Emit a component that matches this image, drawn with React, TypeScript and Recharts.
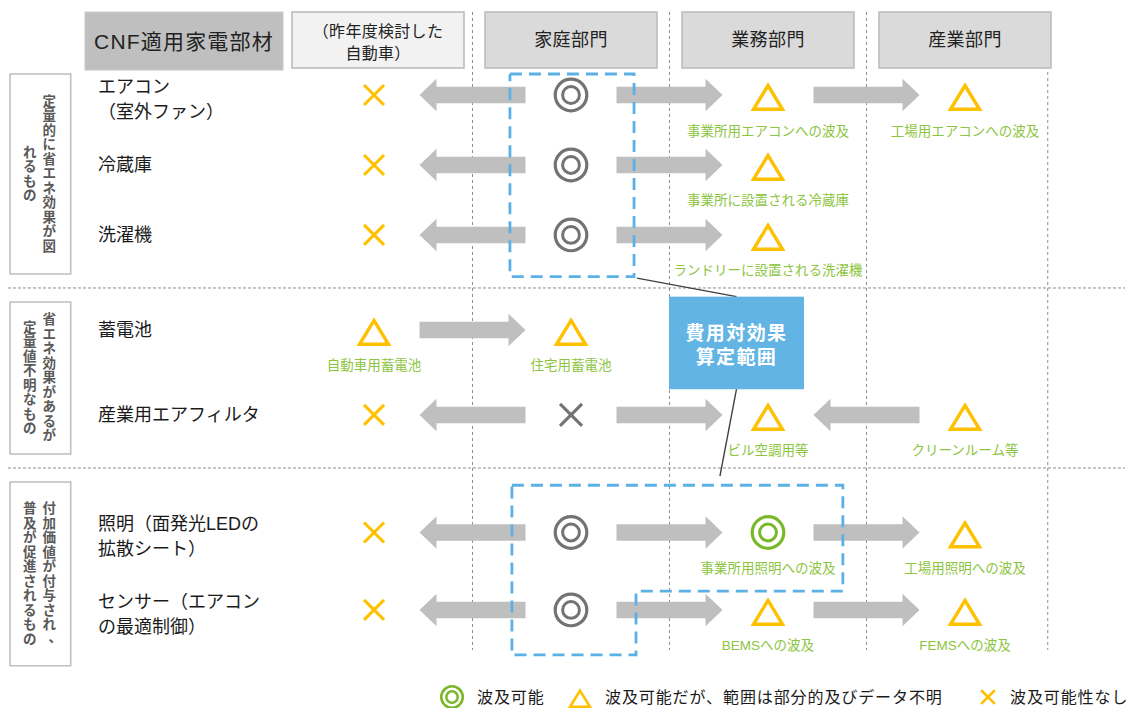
import React from 'react'
import { ScatterChart, Scatter, XAxis, YAxis, ReferenceLine, ReferenceArea } from 'recharts'

const FONT = '"Liberation Sans", "Noto Sans CJK JP", sans-serif'

const ORANGE = '#ffc000'
const GRAY_MARK = '#737373'
const GREEN_MARK = '#7ab82a'
const NOTE_GREEN = '#8cc540'
const ARROW_GRAY = '#bfbfbf'
const BLUE = '#5bb1e6'
const GRID = '#8c8c8c'

// header row, column 0 is the item column
const columnHeaders = [['CNF適用家電部材'], ['（昨年度検討した', '自動車）'], ['家庭部門'], ['業務部門'], ['産業部門']]

// left group labels (vertical text, right column first)
const sectionLabels = [
  ['定量的に省エネ効果が図', 'れるもの'],
  ['省エネ効果があるが', '定量値不明なもの'],
  ['付加価値が付与され、', '普及が促進されるもの'],
]

const rowLabels = [
  ['エアコン', '（室外ファン）'],
  ['冷蔵庫'],
  ['洗濯機'],
  ['蓄電池'],
  ['産業用エアフィルタ'],
  ['照明（面発光LEDの', '拡散シート）'],
  ['センサー（エアコン', 'の最適制御）'],
]
const rowSection = [0, 0, 0, 1, 1, 2, 2]

// dc = ◎, dcg = ◎ (green), tri = △, x = ×, xg = × (gray)
const carMarks = ['x', 'x', 'x', 'tri', 'x', 'x', 'x']
const homeMarks = ['dc', 'dc', 'dc', 'tri', 'xg', 'dc', 'dc']
const bizMarks = ['tri', 'tri', 'tri', '', 'tri', 'dcg', 'tri']
const indMarks = ['tri', '', '', '', 'tri', 'tri', 'tri']

const carNotes = ['', '', '', '自動車用蓄電池', '', '', '']
const homeNotes = ['', '', '', '住宅用蓄電池', '', '', '']
const bizNotes = ['事業所用エアコンへの波及', '事業所に設置される冷蔵庫', 'ランドリーに設置される洗濯機', '', 'ビル空調用等', '事業所用照明への波及', 'BEMSへの波及']
const indNotes = ['工場用エアコンへの波及', '', '', '', 'クリーンルーム等', '工場用照明への波及', 'FEMSへの波及']

// arrows between neighbouring columns, L / R = direction of the head
const arrowsCarHome = ['L', 'L', 'L', 'R', 'L', 'L', 'L']
const arrowsHomeBiz = ['R', 'R', 'R', '', 'R', 'R', 'R']
const arrowsBizInd = ['R', '', '', '', 'L', 'R', 'R']

const scopeLabel = ['費用対効果', '算定範囲']

const legendItems = [
  ['dcg', '波及可能'],
  ['tri', '波及可能だが、範囲は部分的及びデータ不明'],
  ['x', '波及可能性なし'],
]

// ---- layout (column units on x, row units on y) ----
const X_DOMAIN = [-0.8985, 4.8426]
const Y_DOMAIN = [-1.2667, 8.1733]
const SECTION_START = [0, 3.133, 5.833]
const ROW_PITCH = [0.933, 1.133, 1.033]
const HEADER_Y = -0.733
const LABEL_COL_X = -0.694
const COLUMN_EDGES = [1.5, 2.5, 3.5, 4.42]

const rowY = rowLabels.map((_, i) => {
  const s = rowSection[i]
  const k = rowSection.slice(0, i).filter((v) => v === s).length
  return SECTION_START[s] + k * ROW_PITCH[s]
})
const lastRowOf = (s: number) => rowY[rowSection.lastIndexOf(s)]
const sectionEdges = [rowY[0] - 0.467, lastRowOf(0) + 0.707, lastRowOf(1) + 0.707, lastRowOf(2) + 0.93]
const BOX_INSET = 0.187

const headerPoints = columnHeaders.map((lines, c) => ({ x: c, y: HEADER_Y, col: c, lines }))
const rowPoints = rowLabels.map((lines, i) => ({ x: 0, y: rowY[i], lines }))
const sectionPoints = sectionLabels.map((cols, s) => ({
  x: LABEL_COL_X,
  y: (sectionEdges[s] + sectionEdges[s + 1]) / 2,
  cols,
}))

const markPoints = [carMarks, homeMarks, bizMarks, indMarks].flatMap((marks, c) =>
  marks.map((mark, r) => ({ x: c + 1, y: rowY[r], mark })).filter((p) => p.mark)
)
const notePoints = [carNotes, homeNotes, bizNotes, indNotes].flatMap((notes, c) =>
  notes.map((text, r) => ({ x: c + 1, y: rowY[r], text })).filter((p) => p.text)
)
const arrowPoints = [arrowsCarHome, arrowsHomeBiz, arrowsBizInd].flatMap((dirs, c) =>
  dirs.map((dir, r) => ({ x: c + 1.5, y: rowY[r], dir })).filter((p) => p.dir)
)

// dashed range boxes around the 家庭 column
const boxATop = rowY[0] - 0.28
const boxABottom = rowY[2] + 0.555
const boxA = [
  { x: 1.69, y: boxATop },
  { x: 2.32, y: boxATop },
  { x: 2.32, y: boxABottom },
  { x: 1.69, y: boxABottom },
  { x: 1.69, y: boxATop },
]
const boxBTop = rowY[5] - 0.63
const boxB = [
  { x: 1.7, y: boxBTop },
  { x: 3.38, y: boxBTop },
  { x: 3.38, y: rowY[6] - 0.25 },
  { x: 2.33, y: rowY[6] - 0.25 },
  { x: 2.33, y: rowY[6] + 0.6 },
  { x: 1.7, y: rowY[6] + 0.6 },
  { x: 1.7, y: boxBTop },
]
const scopePoint = { x: 2.84, y: rowY[3] + 0.173 }
const calloutLinks = [
  [{ x: 2.84, y: scopePoint.y - 0.617 }, { x: 2.335, y: boxABottom + 0.02 }],
  [{ x: 2.84, y: scopePoint.y + 0.617 }, { x: 2.756, y: boxBTop - 0.12 }],
]
const legendPoint = { x: 1.396, y: 8.027 }
const LEGEND_OFFSETS = [0, 128, 536]

function drawMark(mark: string, cx: number, cy: number, small = false) {
  const k = small ? 0.68 : 1
  if (mark === 'dc' || mark === 'dcg') {
    const color = mark === 'dcg' ? GREEN_MARK : GRAY_MARK
    return (
      <g>
        <circle cx={cx} cy={cy} r={15.8 * k} fill="none" stroke={color} strokeWidth={3.2 * k + (small ? 0.5 : 0)} />
        <circle cx={cx} cy={cy} r={8.4 * k} fill="none" stroke={color} strokeWidth={3 * k + (small ? 0.5 : 0)} />
      </g>
    )
  }
  if (mark === 'tri') {
    const pts = `${cx},${cy - 9.5 * k} ${cx + 14.5 * k},${cy + 14.3 * k} ${cx - 14.5 * k},${cy + 14.3 * k}`
    return <polygon points={pts} fill="none" stroke={ORANGE} strokeWidth={small ? 2.6 : 3.4} />
  }
  const color = mark === 'xg' ? GRAY_MARK : ORANGE
  const h = (mark === 'xg' ? 11 : 10) * k
  return (
    <g stroke={color} strokeWidth={small ? 2.6 : 3.1}>
      <line x1={cx - h} y1={cy - h} x2={cx + h} y2={cy + h} />
      <line x1={cx - h} y1={cy + h} x2={cx + h} y2={cy - h} />
    </g>
  )
}

const MarkShape = (props: any) => drawMark(props.payload.mark, props.cx, props.cy)

const ArrowShape = (props: any) => {
  const { cx, cy, payload } = props
  const s = payload.dir === 'R' ? 1 : -1
  const L = 53
  const HL = 17
  const SH = 8.3
  const HH = 16.3
  const pts = [
    [-L, -SH], [L - HL, -SH], [L - HL, -HH], [L, 0], [L - HL, HH], [L - HL, SH], [-L, SH],
  ]
    .map(([dx, dy]) => `${cx + s * dx},${cy + dy}`)
    .join(' ')
  return <polygon points={pts} fill={ARROW_GRAY} />
}

const HeaderShape = (props: any) => {
  const { cx, cy, payload } = props
  const c = payload.col
  const first = c === 0
  const w = first ? 198 : 172
  const h = first ? 58 : 56
  const left = cx - w / 2 + (first ? 7 : c === 1 ? 4 : 0)
  const top = cy - h / 2 + (first ? 1 : 0)
  const fill = first ? '#bfbfbf' : c === 1 ? '#f2f2f2' : '#dadada'
  const fontSize = first ? 21 : c === 1 ? 16 : 18
  const spacing = first ? 1.2 : c === 1 ? 0.3 : 0.4
  const lines: string[] = payload.lines
  const offs = lines.length === 2 ? [-8.3, 13.3] : [first ? 1 : 0]
  return (
    <g>
      <rect x={left} y={top} width={w} height={h} fill={fill} stroke={first ? '#c8c8c8' : '#bcbcbc'} strokeWidth={first ? 1 : 1.6} />
      {lines.map((t, i) => (
        <text key={i} x={left + w / 2} y={cy + offs[i]} textAnchor="middle" dominantBaseline="central"
          fontSize={fontSize} letterSpacing={spacing} fill="#222" fontFamily={FONT}>
          {t}
        </text>
      ))}
    </g>
  )
}

const RowLabelShape = (props: any) => {
  const { cx, cy, payload } = props
  const lines: string[] = payload.lines
  const offs = lines.length === 2 ? [-8, 17] : [0]
  return (
    <g>
      {lines.map((t, i) => (
        <text key={i} x={cx - 79} y={cy + offs[i]} dominantBaseline="central" fontSize={18} fill="#1a1a1a" fontFamily={FONT}>
          {t}
        </text>
      ))}
    </g>
  )
}

const NoteShape = (props: any) => (
  <text x={props.cx} y={props.cy + 36} textAnchor="middle" dominantBaseline="central" fontSize={13.5}
    fill={NOTE_GREEN} fontFamily={FONT}>
    {props.payload.text}
  </text>
)

const SectionShape = (props: any) => {
  const { cx, cy, payload } = props
  const pitch = 14.5
  const colX = [cx + 9, cx - 10.5]
  return (
    <g>
      {payload.cols.map((str: string, ci: number) => {
        const chars = Array.from(str)
        return chars.map((ch, i) => {
          const punct = ch === '、'
          return (
            <text key={`${ci}-${i}`} x={colX[ci] + (punct ? 6 : 0)} y={cy + (i - (chars.length - 1) / 2) * pitch - (punct ? 2 : 0)}
              textAnchor="middle" dominantBaseline="central" fontSize={13.5} fontWeight={700}
              fill="#595959" fontFamily={FONT}>
              {ch}
            </text>
          )
        })
      })}
    </g>
  )
}

const ScopeShape = (props: any) => {
  const { cx, cy } = props
  return (
    <g>
      <rect x={cx - 67.5} y={cy - 46.3} width={135} height={92.6} fill="#62b4e4" />
      {scopeLabel.map((t, i) => (
        <text key={i} x={cx} y={cy + (i === 0 ? -9.7 : 14.3)} textAnchor="middle" dominantBaseline="central"
          fontSize={19} fontWeight={700} letterSpacing={1.4} fill="#fff" fontFamily={FONT}>
          {t}
        </text>
      ))}
    </g>
  )
}

const LegendShape = (props: any) => {
  const { cx, cy } = props
  return (
    <g>
      {legendItems.map(([mark, label], i) => {
        const x = cx + LEGEND_OFFSETS[i]
        return (
          <g key={i}>
            {drawMark(mark, x, cy, true)}
            <text x={x + (i === 2 ? 22 : 25)} y={cy} dominantBaseline="central" fontSize={16} letterSpacing={0.9}
              fill="#1a1a1a" fontFamily={FONT}>
              {label}
            </text>
          </g>
        )
      })}
    </g>
  )
}

const Empty = () => <g />

export default function App() {
  return (
    <div style={{ position: 'absolute', left: 0, top: 0, width: 1131, height: 708, background: '#fff' }}>
      <ScatterChart width={1131} height={708} margin={{ top: 0, right: 0, bottom: 0, left: 0 }}>
        <XAxis type="number" dataKey="x" domain={X_DOMAIN} allowDataOverflow hide />
        <YAxis type="number" dataKey="y" domain={Y_DOMAIN} allowDataOverflow reversed hide />

        {COLUMN_EDGES.map((x) => (
          <ReferenceLine key={`v${x}`} segment={[{ x, y: -1.107 }, { x, y: 7.4 }]} stroke={GRID} strokeDasharray="3 3" strokeWidth={1} />
        ))}
        {sectionEdges.slice(1, 3).map((y) => (
          <ReferenceLine key={`h${y}`} segment={[{ x: -0.858, y }, { x: 4.812, y }]} stroke={GRID} strokeDasharray="3 2" strokeWidth={1} />
        ))}
        {sectionLabels.map((_, s) => (
          <ReferenceArea key={`g${s}`} x1={-0.8477} x2={-0.5396} y1={sectionEdges[s] + BOX_INSET} y2={sectionEdges[s + 1] - BOX_INSET}
            fill="none" fillOpacity={0} stroke="#bfbfbf" strokeWidth={1.6} />
        ))}

        <Scatter data={headerPoints} shape={HeaderShape} isAnimationActive={false} />
        <Scatter data={sectionPoints} shape={SectionShape} isAnimationActive={false} />
        <Scatter data={rowPoints} shape={RowLabelShape} isAnimationActive={false} />
        <Scatter data={arrowPoints} shape={ArrowShape} isAnimationActive={false} />
        <Scatter data={markPoints} shape={MarkShape} isAnimationActive={false} />
        <Scatter data={notePoints} shape={NoteShape} isAnimationActive={false} />
        <Scatter data={boxA} shape={Empty} line={{ stroke: BLUE, strokeWidth: 2.8, strokeDasharray: '12 7' }} isAnimationActive={false} />
        <Scatter data={boxB} shape={Empty} line={{ stroke: BLUE, strokeWidth: 2.8, strokeDasharray: '12 7' }} isAnimationActive={false} />
        {calloutLinks.map((seg, i) => (
          <ReferenceLine key={`c${i}`} segment={seg} stroke="#404040" strokeWidth={1.4} />
        ))}
        <Scatter data={[scopePoint]} shape={ScopeShape} isAnimationActive={false} />
        <Scatter data={[legendPoint]} shape={LegendShape} isAnimationActive={false} />
      </ScatterChart>
    </div>
  )
}
